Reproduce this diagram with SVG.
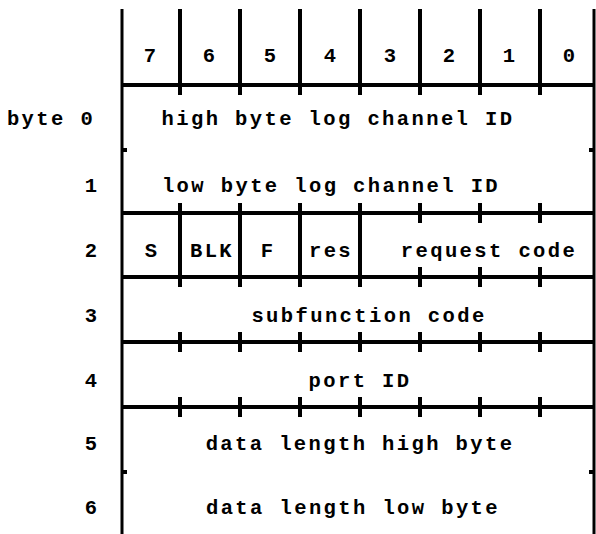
<svg xmlns="http://www.w3.org/2000/svg" width="596" height="534" viewBox="0 0 596 534">
<style>
.ln{stroke:#000;stroke-width:4;fill:none;stroke-linecap:butt}
.bd{stroke:#000;stroke-width:3;fill:none}
.t{font-family:"Liberation Mono","DejaVu Sans Mono",monospace;font-weight:bold;font-size:20.5px;letter-spacing:2.4px;fill:#000;text-anchor:middle}
</style>
<rect width="596" height="534" fill="#fff"/>
<g id="frame">
<line class="bd" x1="122" y1="9" x2="122" y2="534"/>
<line class="bd" x1="594" y1="9" x2="594" y2="534"/>
<line class="ln" x1="122" y1="150" x2="127" y2="150"/>
<line class="ln" x1="589" y1="150" x2="594" y2="150"/>
<line class="ln" x1="122" y1="472" x2="127" y2="472"/>
<line class="ln" x1="589" y1="472" x2="594" y2="472"/>
</g>
<g id="header">
<line class="ln" x1="122" y1="85" x2="595" y2="85"/>
<path class="ln" d="M180 9V95M240 9V95M300 9V95M360 9V95M420 9V95M480 9V95M540 9V95"/>
<text class="t" x="151" y="62">7</text>
<text class="t" x="210" y="62">6</text>
<text class="t" x="271" y="62">5</text>
<text class="t" x="331" y="62">4</text>
<text class="t" x="391" y="62">3</text>
<text class="t" x="450" y="62">2</text>
<text class="t" x="510" y="62">1</text>
<text class="t" x="570" y="62">0</text>
</g>
<g id="row0">
<text class="t" x="51" y="125">byte 0</text>
<text class="t" x="338" y="125">high byte log channel ID</text>
</g>
<g id="row1">
<text class="t" x="92" y="192">1</text>
<text class="t" x="331" y="192">low byte log channel ID</text>
</g>
<g id="row2">
<line class="ln" x1="122" y1="213" x2="595" y2="213"/>
<line class="ln" x1="122" y1="277" x2="595" y2="277"/>
<path class="ln" d="M180 203V287M240 203V287M300 203V287M360 203V287M420 203V223M480 203V223M540 203V223M420 267V287M480 267V287M540 267V287"/>
<text class="t" x="92" y="257">2</text>
<text class="t" x="152" y="257">S</text>
<text class="t" x="212" y="257">BLK</text>
<text class="t" x="268" y="257">F</text>
<text class="t" x="331" y="257">res</text>
<text class="t" x="489" y="257">request code</text>
</g>
<g id="row3">
<line class="ln" x1="122" y1="342" x2="595" y2="342"/>
<path class="ln" d="M180 332V352M240 332V352M300 332V352M360 332V352M420 332V352M480 332V352M540 332V352"/>
<text class="t" x="92" y="322">3</text>
<text class="t" x="369" y="322">subfunction code</text>
</g>
<g id="row4">
<line class="ln" x1="122" y1="407" x2="595" y2="407"/>
<path class="ln" d="M180 397V417M240 397V417M300 397V417M360 397V417M420 397V417M480 397V417M540 397V417"/>
<text class="t" x="92" y="387">4</text>
<text class="t" x="360" y="387">port ID</text>
</g>
<g id="row5">
<text class="t" x="92" y="450">5</text>
<text class="t" x="360" y="450">data length high byte</text>
</g>
<g id="row6">
<text class="t" x="92" y="514">6</text>
<text class="t" x="353" y="514">data length low byte</text>
</g>
<g id="connectors"></g>
</svg>
